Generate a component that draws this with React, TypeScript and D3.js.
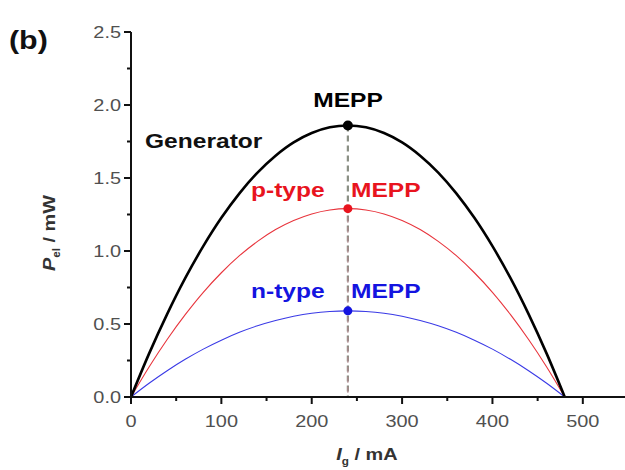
import React from "react";
import * as d3 from "d3";

const current = [0, 20, 40, 60, 80, 100, 120, 140, 160, 180, 200, 220, 240, 260, 280, 300, 320, 340, 360, 380, 400, 420, 440, 460, 480];
const generator = [0, 0.297, 0.568, 0.814, 1.033, 1.227, 1.395, 1.537, 1.653, 1.744, 1.808, 1.847, 1.86, 1.847, 1.808, 1.744, 1.653, 1.537, 1.395, 1.227, 1.033, 0.814, 0.568, 0.297, 0];
const pType = [0, 0.206, 0.394, 0.564, 0.717, 0.851, 0.968, 1.066, 1.147, 1.209, 1.254, 1.281, 1.29, 1.281, 1.254, 1.209, 1.147, 1.066, 0.968, 0.851, 0.717, 0.564, 0.394, 0.206, 0];
const nType = [0, 0.094, 0.18, 0.258, 0.328, 0.389, 0.443, 0.488, 0.524, 0.553, 0.574, 0.586, 0.59, 0.586, 0.574, 0.553, 0.524, 0.488, 0.443, 0.389, 0.328, 0.258, 0.18, 0.094, 0];
const mepp = [
  { name: "Generator", x: 240, y: 1.86 },
  { name: "p-type", x: 240, y: 1.29 },
  { name: "n-type", x: 240, y: 0.59 },
];
const xTicks = [0, 100, 200, 300, 400, 500];
const yTicks = [0.0, 0.5, 1.0, 1.5, 2.0, 2.5];

const W = 625, H = 470;
const x = d3.scaleLinear().domain([0, 550]).range([131, 628]);
const y = d3.scaleLinear().domain([0, 2.5]).range([397, 32]);

const FONT = "'Liberation Sans', Arial, sans-serif";
const SX = 1.17;

function T({ x: tx, y: ty, anchor = "start", size, weight = "bold", fill, children, style }: any) {
  return (
    <text transform={`translate(${tx},${ty}) scale(${SX},1)`} textAnchor={anchor} fontSize={size} fontWeight={weight} fill={fill} fontFamily={FONT} style={style}>
      {children}
    </text>
  );
}

export default function App() {
  const line = (vals: number[]) =>
    d3.line<number>().x((_, i) => x(current[i])).y((v) => y(v)).curve(d3.curveCatmullRom)(vals) || "";
  const xMinor = d3.range(50, 551, 100);
  const yMinor = d3.range(0.25, 2.5, 0.5);
  return (
    <svg width={W} height={H} style={{ position: "absolute", left: 0, top: 0, background: "#fff" }}>
      <rect width={W} height={H} fill="#fff" />
      {/* dashed line */}
      <line x1={x(240)} x2={x(240)} y1={y(1.86)} y2={y(0)} stroke="#8a8f84" strokeWidth={2.2} strokeDasharray="6,4" />
      <line x1={x(240)} x2={x(240)} y1={y(1.29)} y2={y(0)} stroke="#b08a90" strokeWidth={1.2} strokeDasharray="6,4" strokeDashoffset={2} />
      {/* curves */}
      <path d={line(nType)} fill="none" stroke="#3a3ae6" strokeWidth={1.1} />
      <path d={line(pType)} fill="none" stroke="#e8343c" strokeWidth={1.1} />
      <path d={line(generator)} fill="none" stroke="#000" strokeWidth={2.6} />
      {mepp.map((m, i) => (
        <circle key={m.name} cx={x(m.x)} cy={y(m.y)} r={i === 0 ? 5 : 4.5} fill={["#000", "#e8141e", "#1414e0"][i]} />
      ))}
      {/* axes */}
      <line x1={x(0)} x2={x(0)} y1={y(2.5)} y2={y(0) + 1} stroke="#111" strokeWidth={2} />
      <line x1={x(0) - 1} x2={x(550)} y1={y(0)} y2={y(0)} stroke="#111" strokeWidth={2} />
      {yTicks.map((t) => (
        <g key={t}>
          <line x1={x(0) - 7} x2={x(0)} y1={y(t)} y2={y(t)} stroke="#111" strokeWidth={2} />
          <T x={x(0) - 10} y={y(t) + 6} anchor="end" size={17} weight="normal" fill="#505050">{t.toFixed(1)}</T>
        </g>
      ))}
      {yMinor.map((t) => (
        <line key={t} x1={x(0) - 4} x2={x(0)} y1={y(t)} y2={y(t)} stroke="#111" strokeWidth={2} />
      ))}
      {xTicks.map((t) => (
        <g key={t}>
          <line x1={x(t)} x2={x(t)} y1={y(0)} y2={y(0) + 7} stroke="#111" strokeWidth={2} />
          <T x={x(t)} y={427} anchor="middle" size={17} weight="normal" fill="#505050">{t}</T>
        </g>
      ))}
      {xMinor.map((t) => (
        <line key={t} x1={x(t)} x2={x(t)} y1={y(0)} y2={y(0) + 4} stroke="#111" strokeWidth={2} />
      ))}
      {/* axis titles */}
      <text transform={`translate(367,460) scale(${SX},1)`} textAnchor="middle" fontSize={17} fontWeight="bold" fill="#333" fontFamily={FONT}>
        <tspan fontStyle="italic">I</tspan>
        <tspan fontSize={10} dy={5}>g</tspan>
        <tspan dy={-5}> / mA</tspan>
      </text>
      <text transform={`translate(55,233) rotate(-90) scale(${SX},1)`} textAnchor="middle" fontSize={17} fontWeight="bold" fill="#333" fontFamily={FONT}>
        <tspan fontStyle="italic">P</tspan>
        <tspan fontSize={10} dy={5}>el</tspan>
        <tspan dy={-5}> / mW</tspan>
      </text>
      {/* labels */}
      <T x={9} y={49} size={26} fill="#111">(b)</T>
      <T x={348} y={107} anchor="middle" size={21} fill="#000">MEPP</T>
      <T x={145} y={148} size={21} fill="#111">Generator</T>
      <T x={251} y={197} size={21} fill="#e8141e">p-type</T>
      <T x={351} y={197} size={21} fill="#e8141e">MEPP</T>
      <T x={251} y={298} size={21} fill="#1414e0">n-type</T>
      <T x={351} y={298} size={21} fill="#1414e0">MEPP</T>
    </svg>
  );
}
